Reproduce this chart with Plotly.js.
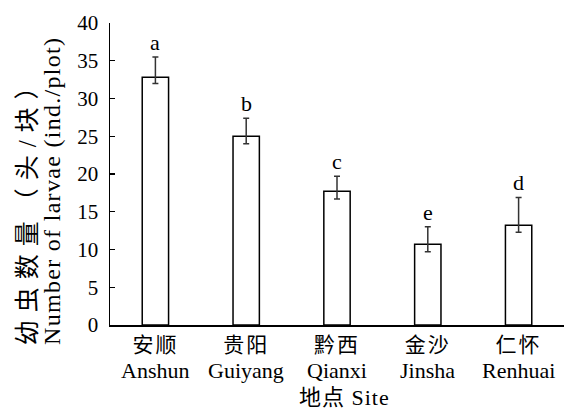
<!DOCTYPE html>
<html>
<head>
<meta charset="utf-8">
<script src="https://cdn.plot.ly/plotly-3.0.1.min.js"></script>
<style>html,body{margin:0;padding:0;background:#fff;}#chart{width:565px;height:414px;}</style>
</head>
<body>
<div id="chart"></div>
<script>
const sitesCN = ["安顺", "贵阳", "黔西", "金沙", "仁怀"];
const sitesEN = ["Anshun", "Guiyang", "Qianxi", "Jinsha", "Renhuai"];
const means = [32.8, 25.0, 17.7, 10.7, 13.2];
const errPlus = [2.7, 2.4, 2.0, 2.3, 3.7];
const errMinus = [0.8, 1.0, 1.0, 1.0, 0.9];
const letters = ["a", "b", "c", "e", "d"];
const yTitleCN = "幼虫数量（头/块）";
const yTitleEN = "Number of larvae (ind./plot)";
const xTitle = "地点 Site";

const FONT = "Liberation Serif, Noto Sans CJK SC, serif";
const idx = sitesCN.map((_, i) => i);
const spaced = (t, px) => '<span style="letter-spacing:' + px + 'px">' + t + '</span>';

const trace = {
  type: "bar",
  x: idx,
  y: means,
  width: 0.29,
  marker: { color: "#ffffff", line: { color: "#000000", width: 1.5 } },
  error_y: {
    type: "data", symmetric: false,
    array: errPlus, arrayminus: errMinus,
    color: "#333333", thickness: 1.5, width: 3
  },
  hoverinfo: "skip"
};

const annotations = idx.map(i => ({
  x: i, y: means[i] + errPlus[i], xref: "x", yref: "y",
  text: letters[i], showarrow: false, yanchor: "bottom", yshift: 0,
  font: { family: FONT, size: 22, color: "#000" }
}));
// English site names (second line of the category labels)
idx.forEach(i => annotations.push({
  x: i, xref: "x", yref: "paper", y: -0.151, yanchor: "middle",
  text: sitesEN[i], showarrow: false,
  font: { family: FONT, size: 22, color: "#000" }
}));
// x axis title
annotations.push({
  xref: "paper", yref: "paper", x: 0.517, y: -0.240,
  xanchor: "center", yanchor: "middle",
  text: spaced(xTitle, 1), showarrow: false,
  font: { family: FONT, size: 22, color: "#000" }
});
// y axis title, two lines
annotations.push({
  xref: "paper", yref: "paper", x: -0.181, y: -0.073,
  xanchor: "center", yanchor: "bottom", textangle: -90,
  text: spaced(yTitleCN, 8), showarrow: false,
  font: { family: FONT, size: 25, color: "#000" }
});
annotations.push({
  xref: "paper", yref: "paper", x: -0.128, y: -0.073,
  xanchor: "center", yanchor: "bottom", textangle: -90,
  text: spaced(yTitleEN, 1.3), showarrow: false,
  font: { family: FONT, size: 24, color: "#000" }
});

const layout = {
  width: 565, height: 414,
  margin: { l: 110, r: 1, t: 23, b: 89 },
  paper_bgcolor: "#fff", plot_bgcolor: "#fff",
  showlegend: false,
  font: { family: FONT, size: 22, color: "#000" },
  xaxis: {
    range: [-0.5, 4.5],
    tickmode: "array", tickvals: idx,
    ticktext: idx.map(i => spaced(sitesCN[i], 2)),
    ticks: "", showgrid: false, zeroline: false,
    showline: true, linecolor: "#000", linewidth: 1.5,
    tickfont: { family: FONT, size: 21, color: "#000" },
    automargin: false
  },
  yaxis: {
    range: [0, 40], dtick: 5, tick0: 0,
    ticks: "inside", ticklen: 5, tickwidth: 1.2, tickcolor: "#000",
    ticklabelstandoff: 6,
    showgrid: false, zeroline: false,
    showline: true, linecolor: "#000", linewidth: 1.5,
    tickfont: { family: FONT, size: 21, color: "#000" },
    automargin: false
  },
  annotations: annotations
};

Plotly.newPlot("chart", [trace], layout, { staticPlot: true, displayModeBar: false });
</script>
</body>
</html>
